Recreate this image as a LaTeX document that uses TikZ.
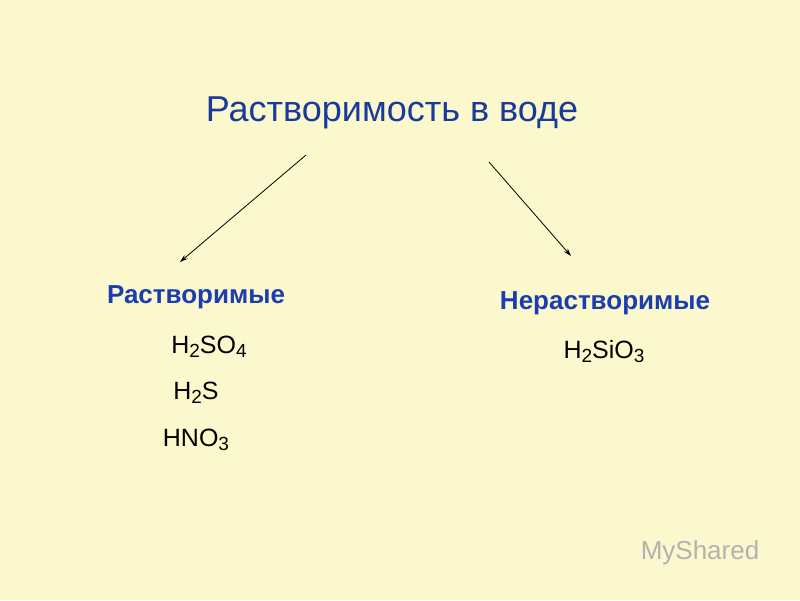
\documentclass[tikz,border=0pt]{standalone}
\usepackage{fontspec}
\setmainfont{Liberation Sans}
\usetikzlibrary{arrows.meta}
\definecolor{bg}{HTML}{FBF8CE}
\definecolor{ttl}{HTML}{1A3A9A}
\definecolor{sub}{HTML}{1B3DB0}
\newcommand{\lowidx}[1]{\raisebox{-0.3ex}{\fontsize{19}{20}\selectfont #1}}
\tikzset{formula/.style={font=\fontsize{25}{30}\selectfont, text=black},
 head/.style={font=\fontsize{26}{30}\selectfont\bfseries, text=sub},
 arr/.style={-{Stealth[length=8pt,width=5pt]}, line width=0.8pt}}
\begin{document}
\begin{tikzpicture}[x=1pt,y=-1pt]
\fill[bg] (0,0) rectangle (800,600);
\useasboundingbox (0,0) rectangle (800,600);
\node[font=\fontsize{36}{42}\selectfont, text=ttl] (t) at (392,113) {Растворимость в воде};
\node[head] (r) at (196,297) {Растворимые};
\node[head] (n) at (605,303) {Нерастворимые};
\node[formula] (f1) at (209,347) {H\lowidx{2}SO\lowidx{4}};
\node[formula] (f2) at (196,393) {H\lowidx{2}S};
\node[formula] (f3) at (196,440) {HNO\lowidx{3}};
\node[formula] (f4) at (604,352) {H\lowidx{2}SiO\lowidx{3}};
\coordinate (a1) at (306,155); \coordinate (b1) at (180,262);
\coordinate (a2) at (489,162); \coordinate (b2) at (571,256);
\draw[arr] (a1) -- (b1);
\draw[arr] (a2) -- (b2);
\node[font=\fontsize{26}{30}\selectfont, text=gray!60] (w) at (700,553) {MyShared};
\end{tikzpicture}
\end{document}
